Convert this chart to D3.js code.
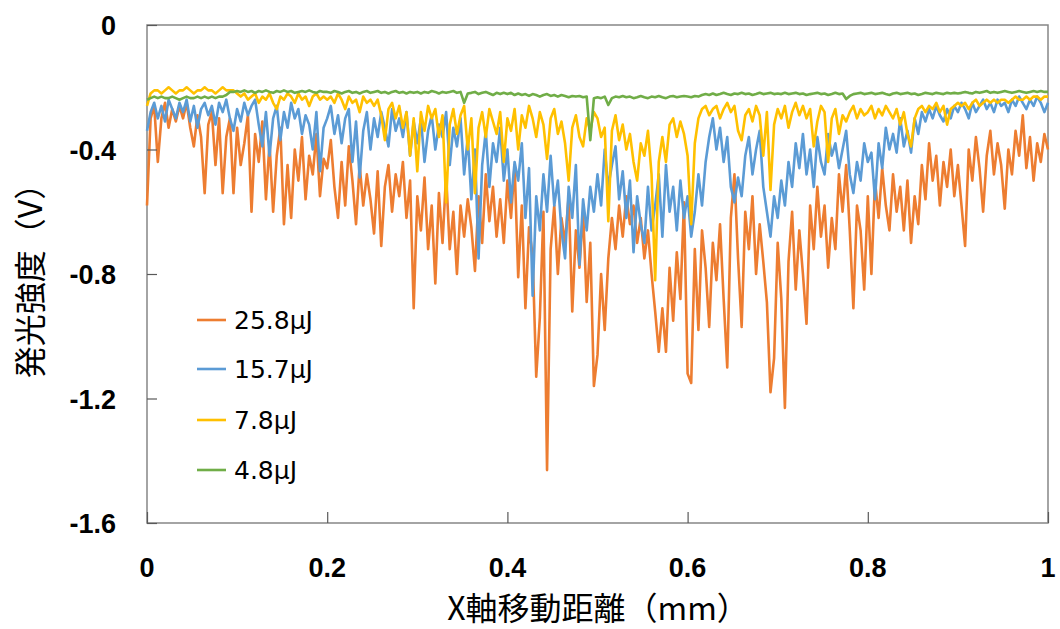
<!DOCTYPE html>
<html>
<head>
<meta charset="utf-8">
<script src="https://cdn.jsdelivr.net/npm/d3@7"></script>
<style>
  body { margin: 0; background: #fff; }
</style>
</head>
<body>
<div id="container"></div>
<script>
// sample spacing along the X axis (mm)
const xStep = 0.004;

const legendNames = ['25.8μJ', '15.7μJ', '7.8μJ', '4.8μJ'];
const colors = ['#ED7D31', '#5B9BD5', '#FFC000', '#70AD47'];

const xTicks = [0, 0.2, 0.4, 0.6, 0.8, 1];
const yTicks = [0, -0.4, -0.8, -1.2, -1.6];
const xTickLabels = ['0', '0.2', '0.4', '0.6', '0.8', '1'];
const yTickLabels = ['0', '-0.4', '-0.8', '-1.2', '-1.6'];

const e258 = [
  -0.58,-0.30,-0.26,-0.44,-0.30,-0.25,-0.33,-0.27,-0.31,-0.26,-0.30,-0.25,-0.33,-0.39,-0.29,-0.36,-0.54,-0.32,-0.28,-0.45,-0.30,-0.54,-0.36,-0.30,-0.54,
  -0.33,-0.45,-0.38,-0.29,-0.60,-0.35,-0.44,-0.31,-0.56,-0.38,-0.60,-0.42,-0.33,-0.64,-0.45,-0.62,-0.40,-0.50,-0.36,-0.56,-0.42,-0.48,-0.35,-0.55,-0.43,
  -0.46,-0.37,-0.52,-0.62,-0.44,-0.58,-0.39,-0.50,-0.64,-0.45,-0.58,-0.48,-0.56,-0.67,-0.47,-0.71,-0.52,-0.45,-0.60,-0.48,-0.55,-0.44,-0.62,-0.50,-0.91,
  -0.55,-0.66,-0.49,-0.72,-0.58,-0.83,-0.54,-0.70,-0.48,-0.72,-0.60,-0.80,-0.58,-0.68,-0.56,-0.65,-0.79,-0.55,-0.70,-0.48,-0.63,-0.52,-0.68,-0.56,-0.70,
  -0.50,-0.62,-0.45,-0.81,-0.58,-0.91,-0.65,-0.74,-1.13,-0.94,-0.60,-1.43,-0.72,-0.58,-0.80,-0.62,-0.70,-0.55,-0.92,-0.66,-0.78,-0.60,-0.89,-0.70,-1.16,
  -1.06,-0.80,-0.98,-0.75,-0.62,-0.72,-0.58,-0.68,-0.55,-0.64,-0.58,-0.70,-0.62,-0.75,-0.66,-0.80,-0.92,-1.05,-0.91,-1.05,-0.78,-0.95,-0.73,-0.88,-0.57,
  -1.12,-1.15,-0.72,-0.98,-0.66,-0.78,-0.97,-0.70,-0.82,-0.64,-0.88,-1.10,-0.62,-0.48,-0.75,-0.97,-0.60,-0.72,-0.55,-0.80,-0.64,-0.76,-0.89,-1.18,-1.07,
  -0.70,-0.88,-1.23,-0.76,-0.60,-0.85,-0.66,-0.80,-0.96,-0.58,-0.72,-0.52,-0.68,-0.58,-0.78,-0.62,-0.72,-0.48,-0.60,-0.45,-0.66,-0.91,-0.58,-0.66,-0.85,
  -0.55,-0.80,-0.50,-0.62,-0.46,-0.58,-0.66,-0.48,-0.60,-0.52,-0.66,-0.50,-0.70,-0.55,-0.64,-0.45,-0.56,-0.38,-0.50,-0.42,-0.58,-0.44,-0.52,-0.40,-0.55,
  -0.45,-0.58,-0.71,-0.40,-0.50,-0.36,-0.46,-0.60,-0.42,-0.34,-0.48,-0.38,-0.45,-0.59,-0.40,-0.48,-0.34,-0.42,-0.29,-0.46,-0.36,-0.50,-0.38,-0.44,-0.35,-0.40
];

const e157 = [
  -0.34,-0.28,-0.25,-0.30,-0.26,-0.31,-0.24,-0.27,-0.30,-0.25,-0.28,-0.24,-0.31,-0.26,-0.33,-0.27,-0.25,-0.29,-0.26,-0.32,-0.25,-0.28,-0.24,-0.30,-0.34,
  -0.27,-0.31,-0.25,-0.29,-0.26,-0.24,-0.32,-0.39,-0.28,-0.42,-0.30,-0.26,-0.37,-0.28,-0.33,-0.25,-0.30,-0.27,-0.35,-0.29,-0.32,-0.40,-0.28,-0.47,-0.33,
  -0.30,-0.26,-0.35,-0.29,-0.38,-0.30,-0.27,-0.44,-0.31,-0.49,-0.34,-0.28,-0.40,-0.30,-0.36,-0.28,-0.33,-0.39,-0.27,-0.34,-0.30,-0.36,-0.28,-0.42,-0.31,
  -0.38,-0.30,-0.44,-0.34,-0.29,-0.40,-0.32,-0.36,-0.28,-0.45,-0.33,-0.39,-0.30,-0.48,-0.36,-0.56,-0.40,-0.75,-0.45,-0.34,-0.52,-0.38,-0.44,-0.33,-0.50,
  -0.40,-0.57,-0.44,-0.50,-0.38,-0.62,-0.46,-0.87,-0.55,-0.66,-0.48,-0.60,-0.42,-0.58,-0.50,-0.66,-0.75,-0.52,-0.62,-0.45,-0.77,-0.56,-0.66,-0.52,-0.60,
  -0.48,-0.58,-0.40,-0.52,-0.45,-0.39,-0.56,-0.47,-0.62,-0.50,-0.73,-0.55,-0.64,-0.70,-0.52,-0.66,-0.58,-0.48,-0.68,-0.45,-0.60,-0.52,-0.66,-0.50,-0.62,
  -0.55,-0.68,-0.60,-0.48,-0.58,-0.44,-0.36,-0.30,-0.40,-0.33,-0.44,-0.36,-0.52,-0.57,-0.49,-0.55,-0.42,-0.36,-0.48,-0.40,-0.34,-0.52,-0.60,-0.68,-0.55,
  -0.62,-0.50,-0.58,-0.44,-0.52,-0.38,-0.46,-0.35,-0.48,-0.40,-0.52,-0.36,-0.44,-0.48,-0.35,-0.42,-0.38,-0.46,-0.40,-0.34,-0.48,-0.54,-0.44,-0.50,-0.38,
  -0.44,-0.41,-0.56,-0.38,-0.46,-0.33,-0.40,-0.35,-0.41,-0.30,-0.39,-0.34,-0.41,-0.30,-0.35,-0.28,-0.31,-0.27,-0.30,-0.26,-0.29,-0.31,-0.27,-0.30,-0.26,
  -0.28,-0.25,-0.27,-0.30,-0.25,-0.28,-0.26,-0.24,-0.27,-0.25,-0.28,-0.24,-0.26,-0.25,-0.28,-0.24,-0.26,-0.23,-0.25,-0.27,-0.24,-0.26,-0.23,-0.25,-0.28,-0.25
];

const e78 = [
  -0.26,-0.22,-0.21,-0.21,-0.22,-0.21,-0.20,-0.21,-0.22,-0.21,-0.21,-0.20,-0.21,-0.22,-0.21,-0.21,-0.20,-0.21,-0.21,-0.22,-0.21,-0.20,-0.21,-0.21,-0.21,
  -0.22,-0.23,-0.22,-0.24,-0.23,-0.22,-0.25,-0.23,-0.24,-0.22,-0.25,-0.27,-0.23,-0.24,-0.22,-0.23,-0.25,-0.22,-0.24,-0.23,-0.26,-0.23,-0.22,-0.24,-0.23,
  -0.24,-0.23,-0.25,-0.22,-0.24,-0.27,-0.23,-0.25,-0.24,-0.28,-0.23,-0.25,-0.24,-0.26,-0.24,-0.29,-0.37,-0.27,-0.25,-0.30,-0.26,-0.33,-0.28,-0.42,-0.30,
  -0.47,-0.28,-0.34,-0.26,-0.30,-0.27,-0.36,-0.29,-0.57,-0.32,-0.27,-0.35,-0.29,-0.26,-0.40,-0.30,-0.54,-0.33,-0.28,-0.36,-0.27,-0.31,-0.35,-0.28,-0.44,
  -0.30,-0.34,-0.27,-0.40,-0.29,-0.33,-0.26,-0.30,-0.36,-0.28,-0.32,-0.43,-0.30,-0.27,-0.35,-0.31,-0.38,-0.50,-0.33,-0.29,-0.36,-0.39,-0.30,-0.34,-0.28,
  -0.30,-0.36,-0.33,-0.63,-0.34,-0.29,-0.37,-0.32,-0.40,-0.35,-0.44,-0.50,-0.38,-0.42,-0.34,-0.48,-0.82,-0.44,-0.36,-0.44,-0.32,-0.30,-0.36,-0.31,-0.35,
  -0.42,-0.64,-0.38,-0.30,-0.27,-0.26,-0.29,-0.27,-0.26,-0.30,-0.27,-0.25,-0.28,-0.26,-0.34,-0.37,-0.29,-0.27,-0.31,-0.26,-0.29,-0.42,-0.28,-0.53,-0.32,
  -0.27,-0.30,-0.26,-0.33,-0.28,-0.25,-0.29,-0.26,-0.30,-0.27,-0.39,-0.31,-0.26,-0.28,-0.44,-0.30,-0.27,-0.35,-0.29,-0.31,-0.28,-0.26,-0.30,-0.27,-0.29,
  -0.28,-0.26,-0.30,-0.27,-0.29,-0.26,-0.28,-0.30,-0.27,-0.32,-0.28,-0.35,-0.39,-0.30,-0.27,-0.26,-0.28,-0.26,-0.27,-0.25,-0.28,-0.26,-0.32,-0.27,-0.26,
  -0.25,-0.26,-0.25,-0.27,-0.25,-0.24,-0.26,-0.25,-0.24,-0.25,-0.24,-0.25,-0.24,-0.24,-0.25,-0.24,-0.23,-0.24,-0.24,-0.23,-0.24,-0.23,-0.23,-0.24,-0.23,-0.23
];

const e48 = [
  -0.24,-0.235,-0.23,-0.235,-0.23,-0.235,-0.235,-0.23,-0.235,-0.24,-0.235,-0.23,-0.235,-0.235,-0.23,-0.235,-0.23,-0.235,-0.23,-0.235,-0.23,-0.23,-0.225,-0.215,-0.215,
  -0.212,-0.215,-0.21,-0.215,-0.212,-0.218,-0.212,-0.215,-0.21,-0.215,-0.218,-0.212,-0.215,-0.21,-0.215,-0.212,-0.218,-0.215,-0.212,-0.215,-0.21,-0.215,-0.218,-0.212,-0.215,
  -0.215,-0.218,-0.212,-0.215,-0.22,-0.215,-0.212,-0.218,-0.215,-0.22,-0.215,-0.212,-0.218,-0.215,-0.212,-0.218,-0.215,-0.22,-0.215,-0.212,-0.218,-0.215,-0.22,-0.215,-0.218,
  -0.215,-0.22,-0.215,-0.218,-0.212,-0.215,-0.22,-0.215,-0.218,-0.215,-0.212,-0.218,-0.215,-0.25,-0.22,-0.218,-0.215,-0.222,-0.218,-0.215,-0.22,-0.225,-0.218,-0.222,-0.218,
  -0.222,-0.218,-0.225,-0.22,-0.225,-0.222,-0.228,-0.222,-0.225,-0.23,-0.225,-0.222,-0.228,-0.225,-0.23,-0.225,-0.228,-0.232,-0.228,-0.23,-0.228,-0.232,-0.23,-0.37,-0.235,
  -0.232,-0.235,-0.23,-0.257,-0.235,-0.23,-0.232,-0.228,-0.232,-0.23,-0.235,-0.232,-0.228,-0.232,-0.235,-0.23,-0.232,-0.228,-0.232,-0.235,-0.23,-0.228,-0.232,-0.23,-0.228,
  -0.23,-0.232,-0.228,-0.23,-0.225,-0.222,-0.225,-0.22,-0.225,-0.222,-0.218,-0.222,-0.225,-0.22,-0.222,-0.218,-0.222,-0.22,-0.225,-0.222,-0.218,-0.222,-0.22,-0.218,-0.222,
  -0.22,-0.222,-0.218,-0.222,-0.22,-0.218,-0.222,-0.22,-0.225,-0.222,-0.22,-0.218,-0.222,-0.22,-0.225,-0.222,-0.218,-0.222,-0.22,-0.238,-0.228,-0.222,-0.22,-0.218,-0.222,
  -0.22,-0.218,-0.222,-0.22,-0.218,-0.222,-0.225,-0.22,-0.218,-0.222,-0.22,-0.218,-0.222,-0.22,-0.225,-0.222,-0.218,-0.22,-0.222,-0.218,-0.22,-0.222,-0.218,-0.22,-0.218,
  -0.22,-0.218,-0.215,-0.218,-0.22,-0.215,-0.218,-0.215,-0.212,-0.218,-0.215,-0.218,-0.215,-0.212,-0.215,-0.218,-0.215,-0.212,-0.215,-0.218,-0.215,-0.212,-0.215,-0.212,-0.215,-0.215
];

const seriesList = [e258, e157, e78, e48];

const w = 1060, h = 629;
const plotLeft = 147, plotRight = 1048, plotTop = 25, plotBottom = 523;

const svg = d3.select('#container').append('svg')
  .attr('width', w).attr('height', h);

const xScale = d3.scaleLinear().domain([0, 1]).range([plotLeft, plotRight]);
const yScale = d3.scaleLinear().domain([-1.6, 0]).range([plotBottom, plotTop]);

// plot frame
svg.append('rect')
  .attr('x', plotLeft).attr('y', plotTop)
  .attr('width', plotRight - plotLeft).attr('height', plotBottom - plotTop)
  .attr('fill', 'none').attr('stroke', '#868686').attr('stroke-width', 1.5);

const line = d3.line()
  .x((d, i) => xScale(i * xStep))
  .y(d => yScale(d));

seriesList.forEach(function(s, k) {
  svg.append('path')
    .datum(s)
    .attr('fill', 'none')
    .attr('stroke', colors[k])
    .attr('stroke-width', 2.6)
    .attr('stroke-linejoin', 'round')
    .attr('d', line);
});

// axes, ticks pointing inward
const xAxis = d3.axisTop(xScale).tickValues(xTicks).tickSize(11).tickFormat('');
svg.append('g')
  .attr('transform', 'translate(0,' + plotBottom + ')')
  .call(xAxis)
  .call(g => g.select('.domain').remove())
  .call(g => g.selectAll('line').attr('stroke', '#595959').attr('stroke-width', 1.2));

const yAxis = d3.axisRight(yScale).tickValues(yTicks).tickSize(10).tickFormat('');
svg.append('g')
  .attr('transform', 'translate(' + plotLeft + ',0)')
  .call(yAxis)
  .call(g => g.select('.domain').remove())
  .call(g => g.selectAll('line').attr('stroke', '#595959').attr('stroke-width', 1.2));

// tick labels
svg.selectAll('.xlab').data(xTicks).enter().append('text')
  .attr('class', 'xlab')
  .attr('x', d => xScale(d))
  .attr('y', 577)
  .attr('text-anchor', 'middle')
  .attr('font-family', 'Liberation Sans')
  .attr('font-weight', 'bold')
  .attr('font-size', 27)
  .text((d, i) => xTickLabels[i]);

svg.selectAll('.ylab').data(yTicks).enter().append('text')
  .attr('class', 'ylab')
  .attr('x', 116)
  .attr('y', d => yScale(d) + 10)
  .attr('text-anchor', 'end')
  .attr('font-family', 'Liberation Sans')
  .attr('font-weight', 'bold')
  .attr('font-size', 27)
  .text((d, i) => yTickLabels[i]);

// axis titles
svg.append('text')
  .attr('x', 598).attr('y', 620)
  .attr('text-anchor', 'middle')
  .attr('font-family', 'Noto Sans CJK JP')
  .attr('font-size', 32)
  .text('X軸移動距離（mm）');

svg.append('text')
  .attr('transform', 'translate(42,273) rotate(-90)')
  .attr('text-anchor', 'middle')
  .attr('font-family', 'Noto Sans CJK JP')
  .attr('font-size', 32)
  .text('発光強度（V）');

// legend
const legend = svg.append('g');
const legendY = [320, 369, 420, 470];
legendNames.forEach(function(name, k) {
  legend.append('line')
    .attr('x1', 197).attr('x2', 226)
    .attr('y1', legendY[k]).attr('y2', legendY[k])
    .attr('stroke', colors[k]).attr('stroke-width', 2.6);
  legend.append('text')
    .attr('x', 234).attr('y', legendY[k] + 9)
    .attr('font-family', 'DejaVu Sans')
    .attr('font-size', 25)
    .attr('fill', '#000')
    .text(name);
});
</script>
</body>
</html>
